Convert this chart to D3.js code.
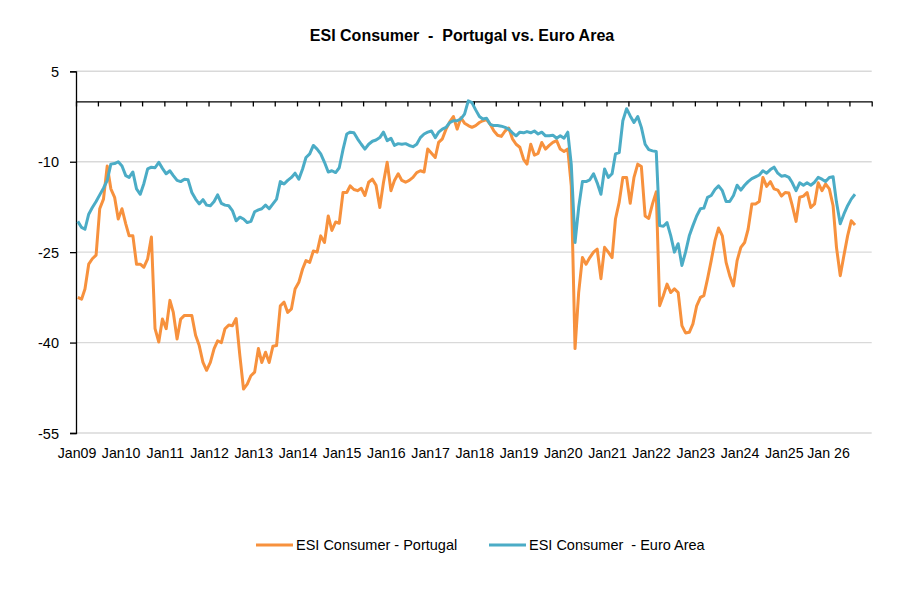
<!DOCTYPE html>
<html>
<head>
<meta charset="utf-8">
<script src="https://cdn.jsdelivr.net/npm/d3@7"></script>
<style>
  html, body { margin: 0; padding: 0; background: #ffffff; }
  svg { display: block; font-family: "Liberation Sans", Arial, sans-serif; }
</style>
</head>
<body>
<svg id="chart" width="911" height="591"></svg>
<script>
// ---- Data (monthly, starting Jan 2009) ----
const startYear = 2009;
const portugal = [
  -32.5,-32.8,-31.1,-27.0,-26.1,-25.5,-17.8,-16.2,-10.7,-14.5,-15.9,-19.5,
  -17.8,-20.3,-22.3,-22.3,-27.0,-27.0,-27.5,-26.1,-22.5,-37.7,-39.9,-36.1,
  -37.7,-33.0,-35.0,-39.4,-36.1,-35.5,-35.5,-35.5,-38.8,-40.5,-43.3,-44.6,
  -43.3,-41.0,-39.7,-40.0,-37.7,-37.1,-37.2,-36.0,-42.2,-47.7,-46.9,-45.5,
  -44.9,-41.0,-43.3,-41.6,-43.3,-40.6,-40.5,-33.9,-33.3,-35.0,-34.4,-31.1,
  -30.0,-27.8,-26.4,-26.7,-24.8,-25.0,-22.3,-23.4,-19.0,-21.4,-20.0,-20.2,
  -15.1,-15.1,-14.0,-14.6,-14.8,-14.4,-15.6,-13.4,-12.9,-13.9,-17.6,-13.5,
  -10.1,-14.8,-13.1,-12.0,-13.1,-13.4,-13.1,-12.6,-11.8,-11.5,-11.7,-7.9,
  -8.6,-9.3,-6.8,-6.2,-4.6,-3.4,-2.5,-4.6,-2.7,-3.6,-4.0,-4.3,
  -4.0,-3.5,-3.2,-3.0,-3.8,-4.9,-5.6,-5.8,-4.9,-4.4,-6.2,-7.1,
  -7.6,-9.6,-10.4,-7.1,-8.9,-8.6,-6.8,-7.9,-7.3,-6.8,-6.5,-7.9,
  -8.3,-7.9,-14.0,-41.0,-31.7,-25.9,-27.0,-25.9,-25.0,-24.5,-29.4,-24.2,
  -25.0,-25.9,-19.5,-16.7,-12.6,-12.6,-16.9,-12.6,-10.4,-10.8,-19.0,-19.4,
  -17.0,-15.0,-33.9,-32.2,-30.3,-31.7,-31.1,-31.7,-37.2,-38.4,-38.3,-36.9,
  -33.9,-32.5,-32.2,-29.4,-26.4,-23.1,-21.0,-22.3,-26.7,-28.9,-30.6,-26.4,
  -24.2,-23.4,-21.2,-17.0,-17.0,-16.6,-12.6,-14.1,-13.3,-14.5,-14.7,-15.7,
  -15.1,-15.2,-17.3,-19.9,-15.9,-15.7,-15.1,-17.6,-17.0,-13.5,-14.8,-13.7,
  -14.5,-17.3,-24.2,-28.9,-25.6,-22.3,-19.8,-20.5
];
const euroArea = [
  -19.9,-20.9,-21.2,-18.7,-17.6,-16.6,-15.5,-14.4,-13.1,-10.4,-10.3,-10.0,
  -10.7,-12.3,-12.6,-11.7,-14.5,-15.4,-13.6,-11.2,-10.9,-11.0,-10.1,-11.1,
  -12.0,-11.5,-12.3,-13.1,-13.3,-12.9,-13.0,-15.1,-16.2,-17.0,-16.3,-17.2,
  -17.3,-16.6,-15.5,-16.9,-17.2,-17.3,-18.1,-19.8,-19.2,-19.5,-20.1,-19.9,
  -18.3,-18.0,-17.8,-17.2,-17.8,-17.0,-16.2,-13.3,-13.7,-13.1,-12.6,-11.9,
  -12.9,-11.2,-9.3,-8.7,-7.3,-7.9,-8.7,-10.1,-11.7,-11.5,-11.8,-11.0,
  -8.0,-5.4,-5.1,-5.2,-6.2,-7.1,-7.9,-7.1,-6.6,-6.4,-6.0,-5.1,
  -6.5,-6.1,-7.3,-7.0,-7.1,-7.0,-7.3,-7.5,-7.1,-6.0,-5.4,-5.1,
  -4.9,-6.0,-5.1,-4.6,-4.3,-3.5,-3.2,-3.2,-2.9,-2.1,0.1,-0.2,
  -1.4,-2.5,-2.9,-2.8,-3.8,-4.0,-4.0,-4.1,-4.3,-4.6,-5.2,-5.7,
  -5.1,-5.2,-5.0,-5.2,-4.9,-5.4,-5.1,-5.7,-5.7,-5.6,-6.1,-5.7,
  -6.1,-5.1,-10.5,-23.4,-17.6,-13.3,-13.3,-13.0,-12.0,-13.5,-15.4,-11.2,
  -12.6,-12.0,-8.7,-8.5,-3.2,-1.2,-2.4,-3.5,-2.5,-4.3,-7.1,-8.0,
  -8.2,-8.3,-20.6,-20.7,-20.1,-22.3,-25.0,-23.6,-27.2,-25.0,-22.3,-20.6,
  -19.0,-17.8,-17.7,-15.9,-15.6,-14.6,-14.0,-14.8,-16.6,-16.6,-15.6,-13.9,
  -14.7,-13.9,-13.3,-12.8,-12.5,-12.2,-11.5,-11.9,-11.3,-10.9,-11.9,-12.4,
  -12.3,-12.6,-13.5,-14.8,-13.5,-13.9,-13.5,-13.9,-13.4,-12.6,-12.9,-13.3,
  -12.6,-12.5,-16.7,-20.3,-18.7,-17.3,-16.2,-15.4
];
const seriesNames = ["ESI Consumer - Portugal", "ESI Consumer  - Euro Area"];
const seriesColors = ["#F7913D", "#4BACC6"];
const yTicks = [5, -10, -25, -40, -55];
const xLabels = ["Jan09","Jan10","Jan11","Jan12","Jan13","Jan14","Jan15","Jan16","Jan17",
                 "Jan18","Jan19","Jan20","Jan21","Jan22","Jan23","Jan24","Jan25","Jan 26"];
const chartTitle = "ESI Consumer  -  Portugal vs. Euro Area";

// ---- Layout ----
const svg = d3.select("#chart");
const plotL = 76, plotR = 871.7, plotT = 71.3, plotB = 433;

const x = d3.scaleTime()
  .domain([new Date(startYear, 0, 1), new Date(startYear + 18, 0, 1)])
  .range([plotL, plotR]);
const y = d3.scaleLinear().domain([-55, 5]).range([plotB, plotT]);

const dateOf = i => new Date(startYear, i, 16);

// Title
svg.append("text")
  .attr("x", 462).attr("y", 41)
  .attr("text-anchor", "middle")
  .attr("font-size", 16).attr("font-weight", "bold")
  .attr("fill", "#000")
  .style("white-space", "pre")
  .text(chartTitle);

// Gridlines
svg.append("g").selectAll("line").data(yTicks).join("line")
  .attr("x1", plotL).attr("x2", plotR)
  .attr("y1", d => y(d)).attr("y2", d => y(d))
  .attr("stroke", "#d9d9d9").attr("stroke-width", 1.4);

// Left axis
const yAxis = d3.axisLeft(y).tickValues(yTicks).tickSize(6).tickPadding(5)
  .tickFormat(d => String(d));
const gy = svg.append("g").attr("transform", `translate(${plotL},0)`).call(yAxis);
gy.select(".domain").attr("stroke", "#000").attr("stroke-width", 1.3);
gy.selectAll(".tick line").attr("stroke", "#000").attr("stroke-width", 1.3);
gy.selectAll(".tick text")
  .attr("font-size", 14.5).attr("fill", "#000")
  .attr("font-family", "Liberation Sans, Arial, sans-serif")
  .attr("x", -17).attr("dy", "0.36em");

// Zero line with half-year tick marks
const halfYears = d3.timeMonth.every(6).range(new Date(startYear, 0, 1), new Date(startYear + 18, 0, 2));
const xAxis = d3.axisBottom(x).tickValues(halfYears).tickSize(5).tickFormat("").tickSizeOuter(0);
const gx = svg.append("g").attr("transform", `translate(0,${y(0)})`).call(xAxis);
gx.select(".domain").attr("stroke", "#000").attr("stroke-width", 1.3);
gx.selectAll(".tick line").attr("stroke", "#000").attr("stroke-width", 1.3);

// Year labels at bottom
svg.append("g").selectAll("text").data(xLabels).join("text")
  .attr("x", (d, i) => x(new Date(startYear + i, 0, 1)) + 1)
  .attr("y", 458)
  .attr("text-anchor", "middle")
  .attr("font-size", 14.2).attr("fill", "#000")
  .style("white-space", "pre")
  .text(d => d);

// Lines
const line = d3.line().x((d, i) => x(dateOf(i))).y(d => y(d));
[portugal, euroArea].forEach((s, k) => {
  svg.append("path").datum(s)
    .attr("fill", "none")
    .attr("stroke", seriesColors[k])
    .attr("stroke-width", 3)
    .attr("stroke-linejoin", "round")
    .attr("d", line);
});

// Legend
const legendX = [256, 489];
const lg = svg.append("g");
seriesNames.forEach((name, k) => {
  lg.append("line")
    .attr("x1", legendX[k]).attr("x2", legendX[k] + 37)
    .attr("y1", 545).attr("y2", 545)
    .attr("stroke", seriesColors[k]).attr("stroke-width", 3);
  lg.append("text")
    .attr("x", legendX[k] + 40).attr("y", 550)
    .attr("font-size", 14.5).attr("fill", "#000")
    .style("white-space", "pre")
    .text(name);
});
</script>
</body>
</html>
